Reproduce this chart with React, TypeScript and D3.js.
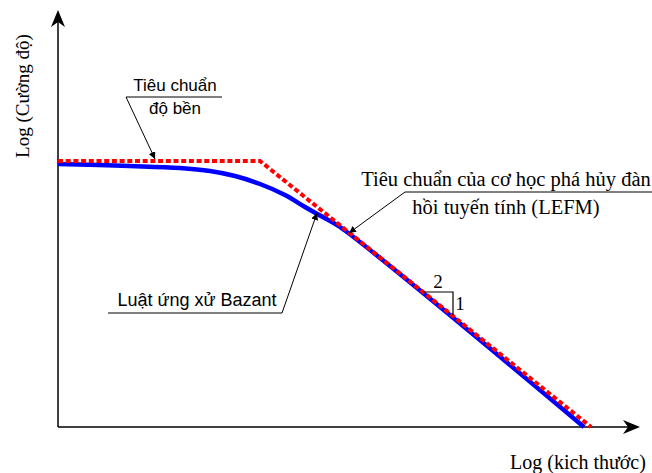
import React from "react";
import * as d3 from "d3";

// Data (logical units: log size 0..100, log strength 0..100)
const strengthX = [0, 34.7, 91.6];
const strengthY = [63.8, 63.8, 0];
const bazantX = [0, 12.37, 20.96, 26.12, 30.41, 34.71, 39.0, 42.44, 45.02, 48.45, 90.38];
const bazantY = [63.07, 62.59, 62.11, 61.39, 60.19, 58.27, 55.64, 52.76, 50.72, 47.96, 0];

const xLabel = "Log (kich thước)";
const yLabel = "Log (Cường độ)";
const labelStrength = ["Tiêu chuẩn", "độ bền"];
const labelLEFM = ["Tiêu chuẩn của cơ học phá hủy đàn", "hồi tuyến tính (LEFM)"];
const labelBazant = "Luật ứng xử Bazant";
const slopeLabels = ["2", "1"];

const W = 652, H = 473;
const x0 = 58, x1 = 640, yBot = 427, yTop = 10;

export default function App() {
  const x = d3.scaleLinear().domain([0, 100]).range([x0, x1]);
  const y = d3.scaleLinear().domain([0, 100]).range([yBot, yTop]);
  const red = strengthX.map((v, i) => [v, strengthY[i]] as [number, number]);
  const blue = bazantX.map((v, i) => [v, bazantY[i]] as [number, number]);
  const lineLin = d3.line<[number, number]>().x(d => x(d[0])).y(d => y(d[1]));
  const lineCurve = d3.line<[number, number]>().x(d => x(d[0])).y(d => y(d[1])).curve(d3.curveCatmullRom.alpha(0.5));

  const sans = "'Liberation Sans', Arial, sans-serif";
  const serif = "'Liberation Serif', 'Times New Roman', serif";

  return (
    <svg width={W} height={H} style={{ position: "fixed", left: 0, top: 0, background: "#fff" }}>
      <defs>
        <marker id="ah" viewBox="0 0 10 10" refX="10" refY="5" markerWidth="7" markerHeight="7" orient="auto" markerUnits="userSpaceOnUse">
          <path d="M0,0 L10,5 L0,10 z" fill="#000" />
        </marker>
      </defs>
      {/* axes */}
      <line x1={x0} y1={yBot} x2={x1 - 12} y2={yBot} stroke="#000" strokeWidth={1.5} />
      <line x1={x0} y1={yBot} x2={x0} y2={yTop + 12} stroke="#000" strokeWidth={1.5} />
      <path d={`M${x1},${yBot} L${x1 - 17},${yBot - 7} L${x1 - 12},${yBot} L${x1 - 17},${yBot + 7} Z`} fill="#000" />
      <path d={`M${x0},${yTop} L${x0 - 7},${yTop + 17} L${x0},${yTop + 12} L${x0 + 7},${yTop + 17} Z`} fill="#000" />

      {/* curves */}
      <path d={lineCurve(blue) || ""} fill="none" stroke="#0000ff" strokeWidth={4.5} />
      <path d={lineLin(red) || ""} fill="none" stroke="#ff0000" strokeWidth={4} strokeDasharray="5,2.7" />

      {/* axis labels */}
      <text x={578} y={469} fontFamily={serif} fontSize={20} textAnchor="middle">{xLabel}</text>
      <text transform="translate(29,96) rotate(-90)" fontFamily={serif} fontSize={19} textAnchor="middle">{yLabel}</text>

      {/* strength criterion annotation */}
      <text x={175} y={91} fontFamily={sans} fontSize={17} textAnchor="middle">{labelStrength[0]}</text>
      <text x={175} y={114} fontFamily={sans} fontSize={17} textAnchor="middle">{labelStrength[1]}</text>
      <line x1={126} y1={97} x2={222} y2={97} stroke="#000" strokeWidth={1} />
      <line x1={126} y1={97} x2={155} y2={159} stroke="#000" strokeWidth={1} markerEnd="url(#ah)" />

      {/* LEFM annotation */}
      <text x={506} y={186} fontFamily={serif} fontSize={20.5} textAnchor="middle">{labelLEFM[0]}</text>
      <text x={506} y={214} fontFamily={serif} fontSize={20.5} textAnchor="middle">{labelLEFM[1]}</text>
      <line x1={405} y1={192} x2={652} y2={192} stroke="#000" strokeWidth={1} />
      <line x1={405} y1={192} x2={349} y2={233} stroke="#000" strokeWidth={1} markerEnd="url(#ah)" />

      {/* Bazant annotation */}
      <text x={197} y={306} fontFamily={sans} fontSize={18} textAnchor="middle">{labelBazant}</text>
      <line x1={108} y1={313} x2={282} y2={313} stroke="#000" strokeWidth={1} />
      <line x1={282} y1={313} x2={317} y2={213} stroke="#000" strokeWidth={1} markerEnd="url(#ah)" />

      {/* slope triangle */}
      <path d="M423,292 L453,292 L453,315" fill="none" stroke="#000" strokeWidth={1.2} />
      <text x={438} y={288} fontFamily={serif} fontSize={19} textAnchor="middle">{slopeLabels[0]}</text>
      <text x={460} y={310} fontFamily={serif} fontSize={19} textAnchor="middle">{slopeLabels[1]}</text>
    </svg>
  );
}
